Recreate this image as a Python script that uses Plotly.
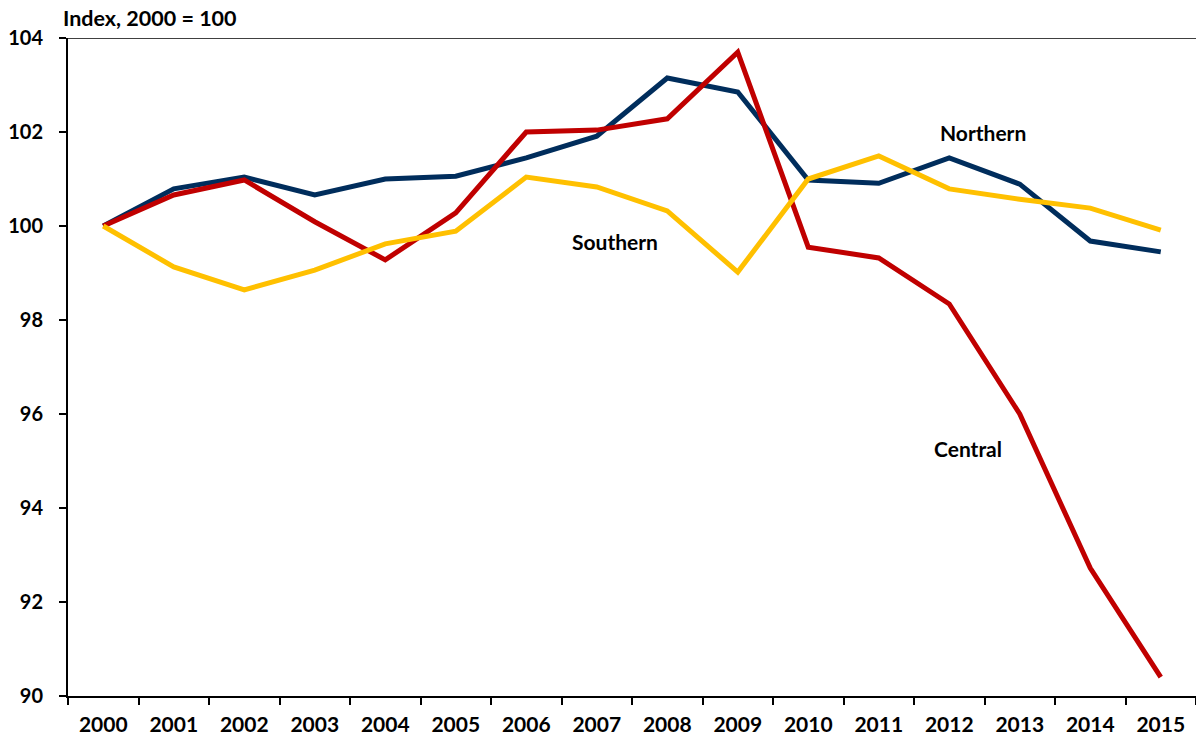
import plotly.graph_objects as go

years = [str(y) for y in range(2000, 2016)]
northern = [100, 100.79, 101.04, 100.66, 101.0, 101.06, 101.45, 101.91, 103.15, 102.85,
            100.98, 100.91, 101.45, 100.89, 99.68, 99.45]
central = [100, 100.66, 100.98, 100.09, 99.28, 100.28, 102.0, 102.04, 102.28, 103.7,
           99.55, 99.32, 98.34, 96.0, 92.72, 90.4]
southern = [100, 99.13, 98.64, 99.06, 99.62, 99.89, 101.04, 100.83, 100.32, 99.02,
            101.0, 101.49, 100.79, 100.57, 100.38, 99.91]
y_ticks = [90, 92, 94, 96, 98, 100, 102, 104]

FONT = "Lato"
fig = go.Figure()
fig.add_trace(go.Scatter(x=years, y=northern, mode="lines", name="Northern",
                         line=dict(color="#002D5C", width=5)))
fig.add_trace(go.Scatter(x=years, y=central, mode="lines", name="Central",
                         line=dict(color="#C00000", width=5)))
fig.add_trace(go.Scatter(x=years, y=southern, mode="lines", name="Southern",
                         line=dict(color="#FFC000", width=5)))

labels = [("Northern", 12.48, 101.98), ("Southern", 7.26, 99.66), ("Central", 12.27, 95.26)]
for txt, xi, yv in labels:
    fig.add_annotation(x=xi, y=yv, text="<b>%s</b>" % txt, showarrow=False,
                       font=dict(family=FONT, size=21, color="black"))

fig.add_annotation(xref="paper", yref="paper", x=0, y=1, xshift=-6, yshift=20,
                   xanchor="left", yanchor="middle", text="<b>Index, 2000 = 100</b>",
                   showarrow=False, borderpad=0,
                   font=dict(family=FONT, size=21.5, color="black"))

fig.add_shape(type="line", xref="paper", yref="y", x0=0, x1=1, y0=104, y1=104,
              line=dict(color="black", width=1.5))

fig.update_layout(
    width=1196, height=740,
    margin=dict(l=68, r=0, t=38, b=44),
    paper_bgcolor="white", plot_bgcolor="white",
    showlegend=False,
    font=dict(family=FONT, color="black"),
    xaxis=dict(type="category", tickson="boundaries", ticks="outside", ticklen=7,
               tickwidth=2, tickcolor="black", showline=True, linecolor="black",
               linewidth=2, showgrid=False, range=[-0.5, 15.5], ticklabelstandoff=9,
               tickfont=dict(family=FONT, size=21, color="black", weight="bold")),
    yaxis=dict(range=[90, 104], tickvals=y_ticks, ticks="outside", ticklen=7,
               tickwidth=2, tickcolor="black", showline=True, linecolor="black",
               linewidth=2, showgrid=False, zeroline=False, ticklabelstandoff=12,
               tickfont=dict(family=FONT, size=20, color="black", weight="bold")),
)

fig.write_html("out.html", config={"displayModeBar": False},
               post_script="document.body.style.margin='0';")
